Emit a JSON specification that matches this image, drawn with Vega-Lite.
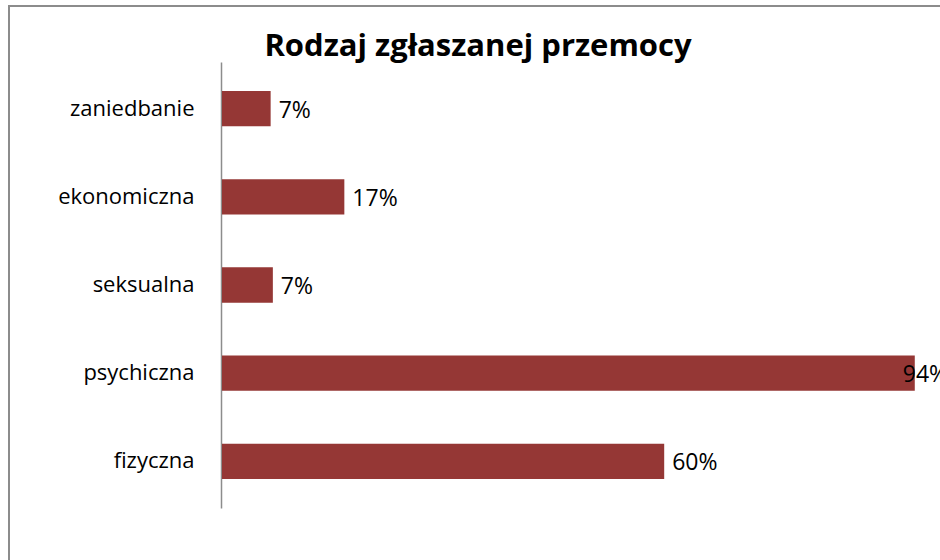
{
  "$schema": "https://vega.github.io/schema/vega-lite/v6.json",
  "width": 934,
  "height": 557,
  "autosize": {"type": "none"},
  "padding": {"left": 9, "top": 6, "right": 0, "bottom": 0},
  "background": "white",
  "config": {"view": {"stroke": "#8c8c8c", "strokeWidth": 2}},
  "title": {
    "text": "Rodzaj zgłaszanej przemocy",
    "font": "Open Sans",
    "fontSize": 31,
    "fontWeight": "bold",
    "color": "black",
    "anchor": "middle",
    "offset": -53,
    "baseline": "alphabetic",
    "dx": 2,
    "dy": 28
  },
  "data": {
    "values": [
      {"rodzaj": "zaniedbanie", "udzial": 0.066},
      {"rodzaj": "ekonomiczna", "udzial": 0.166},
      {"rodzaj": "seksualna", "udzial": 0.069},
      {"rodzaj": "psychiczna", "udzial": 0.94},
      {"rodzaj": "fizyczna", "udzial": 0.6}
    ]
  },
  "encoding": {
    "y": {
      "field": "rodzaj",
      "type": "nominal",
      "sort": ["zaniedbanie", "ekonomiczna", "seksualna", "psychiczna", "fizyczna"],
      "scale": {"range": [56, 502], "paddingInner": 0.6, "paddingOuter": 0.33},
      "axis": {
        "title": null,
        "offset": -212,
        "ticks": false,
        "labelPadding": 27,
        "labelFont": "Open Sans",
        "labelFontSize": 22,
        "labelColor": "black",
        "domainColor": "#8c8c8c",
        "domainWidth": 1.5,
        "grid": false
      }
    },
    "x": {
      "field": "udzial",
      "type": "quantitative",
      "scale": {"domain": [0, 1], "range": [213, 950]},
      "axis": null
    }
  },
  "layer": [
    {"mark": {"type": "bar", "color": "#953735"}},
    {
      "transform": [{"filter": "datum.udzial < 0.9"}],
      "mark": {"type": "text", "align": "left", "baseline": "middle", "dx": 8, "dy": 2, "font": "Open Sans", "fontSize": 23, "color": "black"},
      "encoding": {"text": {"field": "udzial", "type": "quantitative", "format": ".0%"}}
    },
    {
      "transform": [{"filter": "datum.udzial >= 0.9"}],
      "mark": {"type": "text", "align": "left", "baseline": "middle", "dx": -12, "dy": 2, "font": "Open Sans", "fontSize": 23, "color": "black"},
      "encoding": {"text": {"field": "udzial", "type": "quantitative", "format": ".0%"}}
    }
  ]
}
